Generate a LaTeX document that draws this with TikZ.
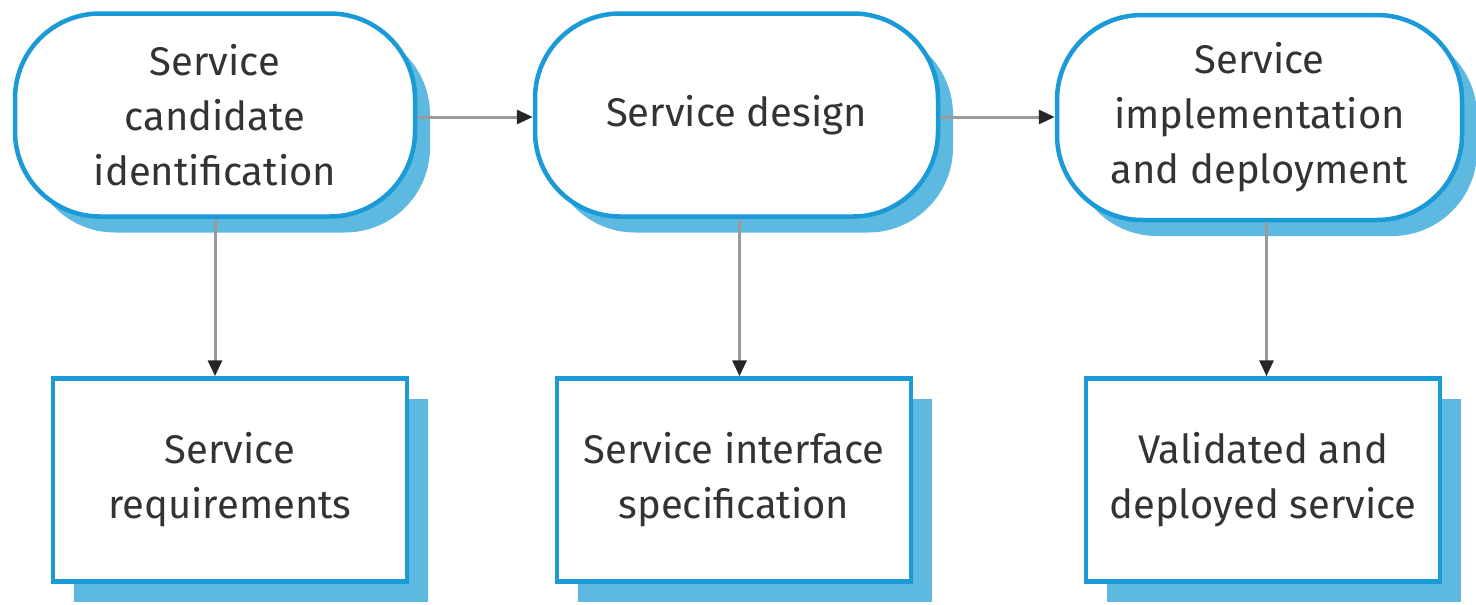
\documentclass[tikz,border=0pt]{standalone}
\usepackage{fontspec}
\setmainfont{Fira Sans}
\usetikzlibrary{arrows.meta,shadows}
\definecolor{frameblue}{HTML}{1A9AD6}
\definecolor{shadeblue}{HTML}{5DB9E0}
\definecolor{txtgray}{HTML}{333333}
\definecolor{linegray}{HTML}{9A9A9A}
\begin{document}
\begin{tikzpicture}[x=1pt,y=-1pt,
  every node/.style={text=txtgray, align=center,
    font=\fontsize{40}{55}\selectfont},
  stage/.style={draw=frameblue, line width=4.5pt, fill=white,
    rounded corners=85pt, inner sep=0pt,
    drop shadow={shadow xshift=15pt, shadow yshift=-16pt,
      fill=shadeblue, opacity=1}},
  product/.style={draw=frameblue, line width=4.5pt, fill=white,
    minimum width=354pt, minimum height=203pt, inner sep=0pt,
    drop shadow={shadow xshift=21pt, shadow yshift=-20pt,
      fill=shadeblue, opacity=1}},
  conn/.style={draw=linegray, line width=3pt,
    -{Triangle[length=16pt,width=14pt,color=black!85]}}]
\useasboundingbox (0,0) rectangle (1476,605);

% process stages
\node[stage, minimum width=400pt, minimum height=203pt] (s1) at (215,115)
  {Service\\candidate\\identification};
\node[stage, minimum width=403pt, minimum height=203pt] (s2) at (736.5,115)
  {Service design};
\node[stage, minimum width=405pt, minimum height=205pt] (s3) at (1259.5,117.5)
  {Service\\implementation\\and deployment};

% stage outputs
\node[product] (r1) at (230,480) {Service\\requirements};
\node[product] (r2) at (734,480) {Service interface\\specification};
\node[product] (r3) at (1263,480) {Validated and\\deployed service};

% flow between stages
\draw[conn] ([yshift=-2pt]s1.east) -- ([yshift=-2pt]s1.east -| s2.west);
\draw[conn] ([yshift=-2pt]s2.east) -- ([yshift=-2pt]s2.east -| s3.west);

% each stage produces its output
\draw[conn] (s1.south) -- (s1.south |- r1.north);
\draw[conn] ([xshift=3pt]s2.south) -- ([xshift=3pt]s2.south |- r2.north);
\draw[conn] ([xshift=7pt]s3.south) -- ([xshift=7pt]s3.south |- r3.north);
\end{tikzpicture}
\end{document}
